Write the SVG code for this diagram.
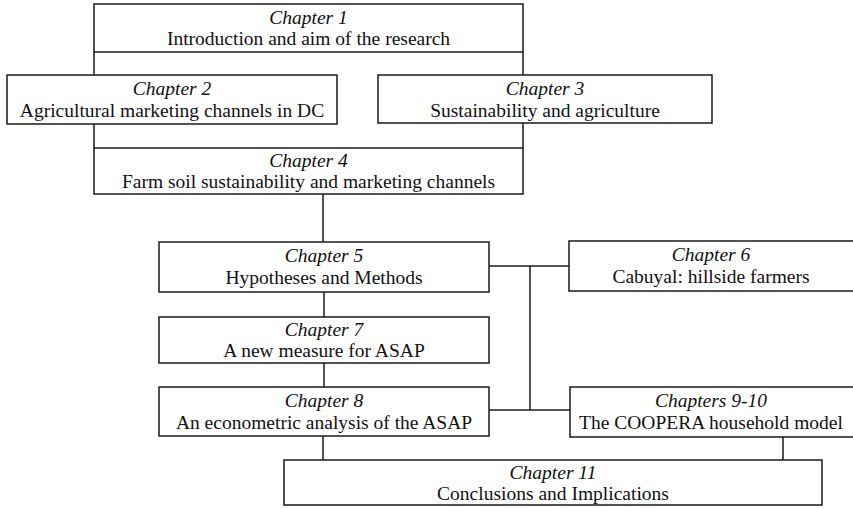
<svg xmlns="http://www.w3.org/2000/svg" width="853" height="508" viewBox="0 0 853 508">
  <style>
    .box { fill: #ffffff; stroke: #1a1a1a; stroke-width: 1.5; }
    .wire { fill: none; stroke: #1a1a1a; stroke-width: 1.5; }
    text { font-family: "Liberation Serif", "Times New Roman", serif; font-size: 19.5px; fill: #111111; text-anchor: middle; }
    .ch { font-style: italic; }
  </style>
  <rect width="853" height="508" fill="#ffffff"/>

  <!-- connectors -->
  <g id="connectors">
    <line class="wire" x1="94" y1="52" x2="94" y2="148"/>
    <line class="wire" x1="523" y1="52" x2="523" y2="148"/>
    <line class="wire" x1="323" y1="194" x2="323" y2="242"/>
    <line class="wire" x1="324" y1="292" x2="324" y2="317"/>
    <line class="wire" x1="324" y1="363" x2="324" y2="387"/>
    <line class="wire" x1="323" y1="436" x2="323" y2="460"/>
    <polyline class="wire" points="489,266 569,266"/>
    <polyline class="wire" points="489,410 570,410"/>
    <line class="wire" x1="530" y1="266" x2="530" y2="410"/>
    <line class="wire" x1="783" y1="437" x2="783" y2="460"/>
  </g>

  <g id="ch1">
    <rect class="box" x="94" y="4" width="429" height="48"/>
    <text class="ch" x="308.5" y="24">Chapter 1</text>
    <text x="308.5" y="45">Introduction and aim of the research</text>
  </g>
  <g id="ch2">
    <rect class="box" x="7" y="75" width="330" height="49"/>
    <text class="ch" x="172" y="95">Chapter 2</text>
    <text x="172" y="117">Agricultural marketing channels in DC</text>
  </g>
  <g id="ch3">
    <rect class="box" x="378" y="75" width="334" height="48"/>
    <text class="ch" x="545" y="95">Chapter 3</text>
    <text x="545" y="117">Sustainability and agriculture</text>
  </g>
  <g id="ch4">
    <rect class="box" x="94" y="148" width="429" height="46"/>
    <text class="ch" x="308.5" y="167">Chapter 4</text>
    <text x="308.5" y="188">Farm soil sustainability and marketing channels</text>
  </g>
  <g id="ch5">
    <rect class="box" x="159" y="242" width="330" height="50"/>
    <text class="ch" x="324" y="262">Chapter 5</text>
    <text x="324" y="284">Hypotheses and Methods</text>
  </g>
  <g id="ch6">
    <rect class="box" x="569" y="241" width="290" height="50"/>
    <text class="ch" x="711" y="261">Chapter 6</text>
    <text x="711" y="283">Cabuyal: hillside farmers</text>
  </g>
  <g id="ch7">
    <rect class="box" x="159" y="317" width="330" height="46"/>
    <text class="ch" x="324" y="336">Chapter 7</text>
    <text x="324" y="357">A new measure for ASAP</text>
  </g>
  <g id="ch8">
    <rect class="box" x="159" y="387" width="330" height="49"/>
    <text class="ch" x="324" y="407">Chapter 8</text>
    <text x="324" y="429">An econometric analysis of the ASAP</text>
  </g>
  <g id="ch9-10">
    <rect class="box" x="570" y="387" width="289" height="50"/>
    <text class="ch" x="711" y="407">Chapters 9-10</text>
    <text x="711" y="429">The COOPERA household model</text>
  </g>
  <g id="ch11">
    <rect class="box" x="284" y="460" width="538" height="45"/>
    <text class="ch" x="553" y="479">Chapter 11</text>
    <text x="553" y="500">Conclusions and Implications</text>
  </g>
</svg>
